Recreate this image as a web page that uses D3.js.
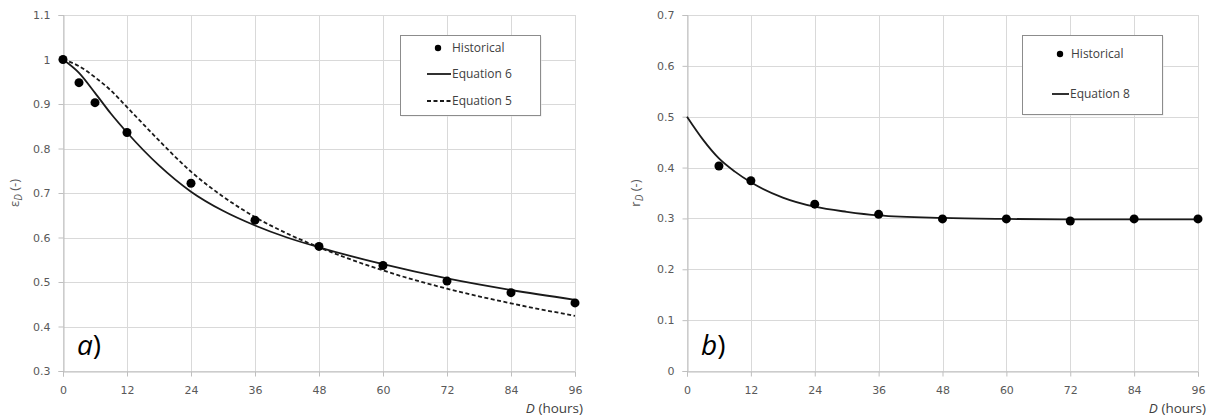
<!DOCTYPE html>
<html>
<head>
<meta charset="utf-8">
<script src="https://cdn.jsdelivr.net/npm/d3@7"></script>
<style>
  body { margin: 0; background: #fff; }
  svg { display: block; }
</style>
</head>
<body>
<svg id="chart" width="1210" height="417"></svg>
<script>
// ---- data ----
var hours = [0, 12, 24, 36, 48, 60, 72, 84, 96];

// panel a) epsilon_D
var histA_x = [0, 3, 6, 12, 24, 36, 48, 60, 72, 84, 96];
var histA_y = [1.0, 0.948, 0.903, 0.836, 0.722, 0.639, 0.58, 0.537, 0.502, 0.476, 0.453];
var eqA_x = [0, 3, 6, 9, 12, 18, 24, 30, 36, 42, 48, 60, 72, 84, 96];
var eq6_y = [1.0, 0.97, 0.925, 0.878, 0.836, 0.762, 0.703, 0.66, 0.627, 0.6, 0.578, 0.54, 0.508, 0.482, 0.46];
var eq5_y = [1.0, 0.985, 0.96, 0.93, 0.893, 0.818, 0.748, 0.692, 0.646, 0.609, 0.578, 0.526, 0.485, 0.452, 0.424];
var ticksA = [0.3, 0.4, 0.5, 0.6, 0.7, 0.8, 0.9, 1, 1.1];

// panel b) r_D
var histB_x = [6, 12, 24, 36, 48, 60, 72, 84, 96];
var histB_y = [0.403, 0.374, 0.328, 0.308, 0.299, 0.299, 0.295, 0.299, 0.299];
var eqB_x = [0, 3, 6, 9, 12, 18, 24, 30, 36, 48, 60, 72, 84, 96];
var eq8_y = [0.5, 0.455, 0.418, 0.392, 0.371, 0.341, 0.323, 0.313, 0.306, 0.301, 0.299, 0.298, 0.298, 0.298];
var ticksB = [0, 0.1, 0.2, 0.3, 0.4, 0.5, 0.6, 0.7];

var svg = d3.select('#chart');

function zip(xs, ys) {
   var out = [];
   for (var i = 0; i < xs.length; i++) out.push({x: xs[i], y: ys[i]});
   return out;
}

function panel(opt) {
   var x = d3.scaleLinear().domain([0, 96]).range([opt.left, opt.right]);
   var y = d3.scaleLinear().domain(opt.ydomain).range([opt.bottom, opt.top]);
   var g = svg.append('g');

   // grid
   g.selectAll('.hg').data(opt.yticks).enter().append('line')
      .attr('x1', opt.left).attr('x2', opt.right)
      .attr('y1', function(d){ return Math.round(y(d)) + 0.5; })
      .attr('y2', function(d){ return Math.round(y(d)) + 0.5; })
      .attr('stroke', '#d9d9d9').attr('stroke-width', 1);
   g.selectAll('.vg').data(hours).enter().append('line')
      .attr('y1', opt.top).attr('y2', opt.bottom)
      .attr('x1', function(d){ return Math.round(x(d)) + 0.5; })
      .attr('x2', function(d){ return Math.round(x(d)) + 0.5; })
      .attr('stroke', '#d9d9d9').attr('stroke-width', 1);

   // axes
   var ya = d3.axisLeft(y).tickValues(opt.yticks).tickSize(5).tickPadding(8)
      .tickFormat(function(d){ return String(+d.toFixed(1)); });
   var xa = d3.axisBottom(x).tickValues(hours).tickSize(5).tickPadding(10);
   var gy = g.append('g').attr('transform', 'translate(' + (Math.round(opt.left) + 0.5) + ',0)').call(ya);
   var gx = g.append('g').attr('transform', 'translate(0,' + (Math.round(opt.bottom) + 0.5) + ')').call(xa);
   [gx, gy].forEach(function(a){
      a.select('.domain').attr('stroke', '#bfbfbf');
      a.selectAll('.tick line').attr('stroke', '#bfbfbf');
      a.selectAll('.tick text').attr('fill', '#595959')
         .style('font-family', 'DejaVu Sans, sans-serif').style('font-size', '11px');
   });

   // lines
   opt.lines.forEach(function(l){
      g.append('path').datum(zip(l.x, l.y))
         .attr('fill', 'none').attr('stroke', '#1a1a1a').attr('stroke-width', 1.8)
         .attr('stroke-dasharray', l.dash || null)
         .attr('d', d3.line().x(function(d){ return x(d.x); }).y(function(d){ return y(d.y); })
            .curve(d3.curveMonotoneX));
   });

   // historical points
   g.selectAll('.pt').data(zip(opt.hx, opt.hy)).enter().append('circle')
      .attr('cx', function(d){ return x(d.x); })
      .attr('cy', function(d){ return y(d.y); })
      .attr('r', 4.5).attr('fill', '#000');

   // y title
   var yt = g.append('text')
      .attr('transform', 'translate(' + opt.ytitleX + ',' + ((opt.top + opt.bottom) / 2) + ') rotate(-90)')
      .attr('text-anchor', 'middle').attr('fill', '#595959')
      .style('font-family', 'Open Sans, sans-serif').style('font-size', '13px');
   yt.append('tspan').text(opt.ysym);
   yt.append('tspan').attr('dy', 3).style('font-size', '10px').style('font-style', 'italic').text('D');
   yt.append('tspan').attr('dy', -3).text(' (-)');

   // x title
   var xt = g.append('text').attr('x', opt.right + 8).attr('y', 413)
      .attr('text-anchor', 'end').attr('fill', '#404040')
      .style('font-family', 'Open Sans, sans-serif').style('font-size', '13.5px');
   xt.append('tspan').style('font-style', 'italic').text('D');
   xt.append('tspan').text(' (hours)');

   // panel letter
   var pl = g.append('text').attr('x', opt.left + 14).attr('y', 355)
      .attr('fill', '#000')
      .style('font-family', 'Open Sans, sans-serif').style('font-size', '28px');
   pl.append('tspan').style('font-style', 'italic').text(opt.letter);
   pl.append('tspan').text(')');

   // legend
   var lg = opt.legend;
   g.append('rect').attr('x', lg.x + 1.5).attr('y', lg.y + 1.5).attr('width', lg.w).attr('height', lg.h)
      .attr('fill', '#e8e8e8');
   g.append('rect').attr('x', lg.x + 0.5).attr('y', lg.y + 0.5).attr('width', lg.w).attr('height', lg.h)
      .attr('fill', '#fff').attr('stroke', '#8c8c8c').attr('stroke-width', 1);
   lg.items.forEach(function(it){
      if (it.kind === 'dot') {
         g.append('circle').attr('cx', it.sx + (it.sw / 2) + 6).attr('cy', it.y).attr('r', 3.2).attr('fill', '#000');
      } else {
         g.append('line').attr('x1', it.sx).attr('x2', it.sx + it.sw).attr('y1', it.y).attr('y2', it.y)
            .attr('stroke', '#1a1a1a').attr('stroke-width', 1.8)
            .attr('stroke-dasharray', it.dash || null);
      }
      g.append('text').attr('x', it.tx).attr('y', it.y + 4).attr('fill', '#404040')
         .style('font-family', 'Open Sans, sans-serif').style('font-size', '12px').text(it.label);
   });
}

panel({
   left: 63, right: 575, top: 15, bottom: 371,
   ydomain: [0.3, 1.1], yticks: ticksA,
   lines: [{x: eqA_x, y: eq6_y}, {x: eqA_x, y: eq5_y, dash: '4,2.5'}],
   hx: histA_x, hy: histA_y,
   ysym: '\u03b5', ytitleX: 19, letter: 'a',
   legend: {x: 400, y: 35, w: 140, h: 80, items: [
      {kind: 'dot', label: 'Historical', sx: 426, sw: 12, tx: 452, y: 48},
      {kind: 'line', label: 'Equation 6', sx: 427, sw: 24, tx: 452, y: 74},
      {kind: 'line', label: 'Equation 5', sx: 427, sw: 24, tx: 452, y: 101, dash: '4,2.5'}
   ]}
});

panel({
   left: 687, right: 1198, top: 15, bottom: 371,
   ydomain: [0, 0.7], yticks: ticksB,
   lines: [{x: eqB_x, y: eq8_y}],
   hx: histB_x, hy: histB_y,
   ysym: 'r', ytitleX: 640, letter: 'b',
   legend: {x: 1022, y: 35, w: 140, h: 79, items: [
      {kind: 'dot', label: 'Historical', sx: 1048, sw: 12, tx: 1071, y: 54},
      {kind: 'line', label: 'Equation 8', sx: 1052, sw: 17, tx: 1070, y: 94}
   ]}
});
</script>
</body>
</html>
